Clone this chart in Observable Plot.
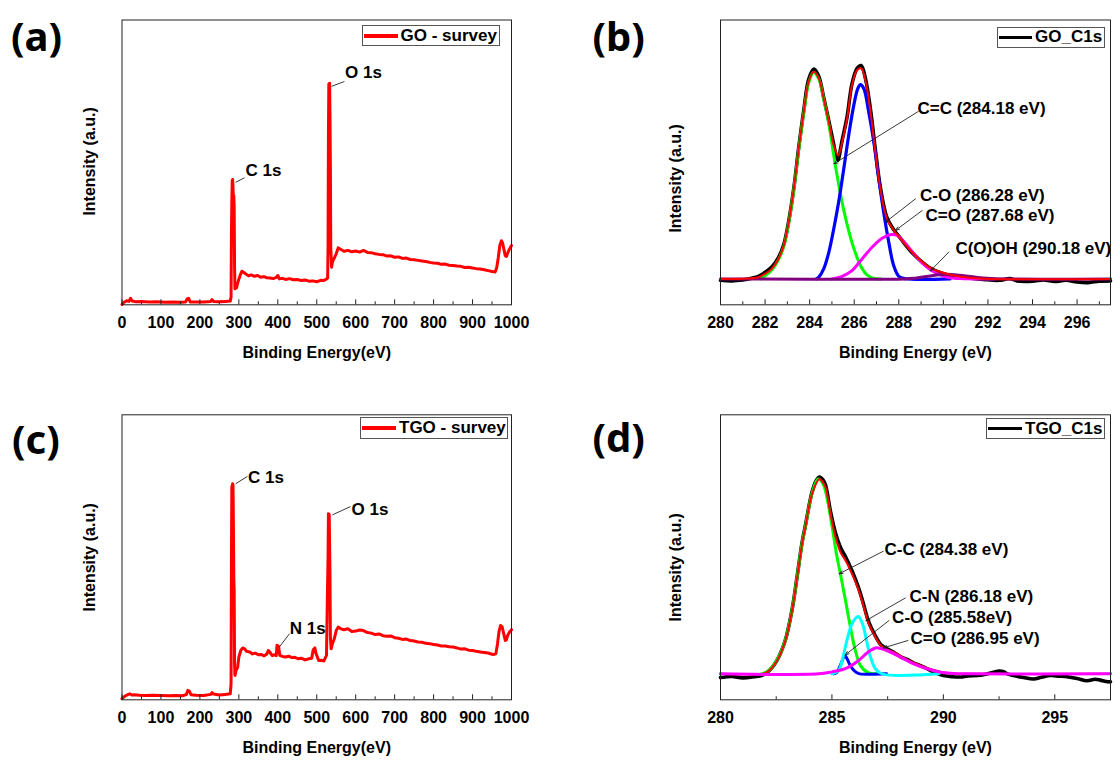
<!DOCTYPE html>
<html>
<head>
<meta charset="utf-8">
<script src="https://cdn.jsdelivr.net/npm/d3@7"></script>
<script src="https://cdn.jsdelivr.net/npm/@observablehq/plot@0.6"></script>
<style>
  body { margin: 0; background: #fff; }
  #fig { position: relative; width: 1115px; height: 760px; overflow: hidden; background: #fff; }
  #fig svg { position: absolute; }
</style>
</head>
<body>
<div id="fig"></div>
<script>
// ---------- data: [binding energy (eV), intensity (% of panel height)] ----------

// GO survey spectrum
const goSurvey = [
  [0,0.1],[5,0.9],[12,1.4],[18,1.2],[22,2.3],[26,1.3],[35,1.1],[50,1.2],[70,1.0],[90,1.1],
  [110,0.9],[130,1.0],[150,0.9],[163,1.0],[167,2.0],[171,2.3],[175,1.0],[190,1.0],[210,1.0],
  [228,1.2],[231,1.8],[235,1.2],[250,1.1],[265,1.2],[278,1.3],[280,2.7],[281,25.0],[282,36.6],
  [283,43.6],[284,44.0],[285,41.3],[286,36.6],[287,38.4],[288,34.3],[289,13.2],[290,5.6],
  [292,6.8],[294,5.9],[297,7.6],[300,9.0],[304,10.6],[308,11.8],[312,11.4],[318,10.8],[325,10.2],
  [332,10.5],[340,10.0],[348,10.3],[356,9.7],[364,9.9],[372,9.5],[380,9.4],[388,9.2],[396,9.6],
  [400,10.3],[404,9.1],[412,9.3],[420,8.9],[430,9.2],[440,8.8],[450,8.9],[460,8.5],[470,8.7],
  [480,8.3],[490,8.4],[500,8.1],[510,8.6],[518,8.5],[524,9.0],[528,9.4],[529,20.2],[530,60.0],
  [531,77.5],[533,77.8],[534,65.8],[535,48.3],[536,20.2],[538,13.2],[540,14.8],[542,15.6],
  [546,16.7],[550,17.9],[555,20.0],[560,19.6],[570,18.8],[580,19.1],[590,18.6],[600,18.9],
  [610,18.5],[620,19.1],[630,18.4],[640,18.3],[650,17.9],[660,17.7],[670,17.6],[680,17.1],
  [690,17.2],[700,16.7],[710,16.8],[720,16.3],[730,16.4],[740,15.9],[750,15.8],[760,15.6],
  [770,15.4],[780,15.2],[790,14.9],[800,14.7],[810,14.6],[820,14.2],[830,14.3],[840,13.9],
  [850,13.8],[860,13.6],[870,13.5],[880,13.1],[890,13.2],[900,12.9],[910,12.7],[920,12.6],
  [930,12.3],[940,12.0],[950,11.7],[958,11.5],[962,13.0],[966,16.5],[970,20.8],[974,22.5],
  [977,21.8],[980,19.8],[984,17.2],[987,17.0],[990,18.1],[995,19.6],[1000,20.8]
];

// TGO survey spectrum
const tgoSurvey = [
  [0,0.4],[5,1.0],[10,1.5],[15,1.8],[20,2.1],[25,1.7],[30,1.8],[45,1.6],[60,1.5],[80,1.6],
  [100,1.5],[120,1.4],[140,1.5],[155,1.4],[165,1.8],[169,3.3],[173,3.0],[177,1.8],[190,1.6],
  [210,1.5],[228,1.9],[231,2.5],[235,2.0],[250,1.7],[265,1.9],[278,2.1],[280,5.6],[281,50.0],
  [282,74.6],[284,75.8],[285,75.2],[286,61.8],[287,43.0],[288,38.4],[289,12.6],[290,8.5],
  [293,10.3],[297,11.5],[300,15.0],[305,17.3],[310,18.2],[315,17.9],[320,17.0],[328,16.8],
  [335,16.1],[342,16.4],[350,15.8],[358,15.9],[365,15.4],[372,16.1],[376,17.3],[380,16.6],
  [386,15.5],[392,15.8],[396,15.5],[398,19.1],[402,18.8],[405,15.6],[412,15.2],[420,15.0],
  [428,15.3],[436,14.8],[444,14.9],[452,14.4],[460,14.6],[470,14.0],[480,14.4],[487,14.6],
  [491,17.6],[495,18.2],[498,16.3],[505,13.8],[512,13.9],[518,13.6],[525,15.6],[527,33.7],
  [529,50.0],[530,65.3],[532,65.0],[533,54.7],[534,43.0],[535,22.0],[537,17.9],[540,19.6],
  [545,21.4],[550,24.3],[555,25.5],[562,24.9],[570,24.6],[580,24.9],[590,24.0],[600,24.1],
  [610,24.5],[620,24.3],[630,23.6],[640,23.4],[650,22.9],[660,23.1],[670,22.5],[680,22.3],
  [690,22.4],[700,21.8],[710,21.6],[720,21.2],[730,21.3],[740,20.8],[750,20.6],[760,20.3],
  [770,20.2],[780,19.8],[790,19.7],[800,19.4],[810,19.2],[820,18.9],[830,18.9],[840,18.6],
  [850,18.5],[860,18.2],[870,17.8],[880,17.9],[890,17.4],[900,17.3],[910,17.0],[920,16.8],
  [930,16.6],[940,16.4],[950,16.0],[955,15.9],[960,16.2],[964,19.6],[968,24.0],[972,26.1],
  [976,25.6],[980,23.2],[984,20.8],[987,21.0],[990,22.6],[995,23.8],[1000,24.6]
];

// GO C1s: measured spectrum
const goC1sRaw = [
  [280.0,8.6],[280.5,8.4],[281.0,8.7],[281.4,9.3],[281.7,10.0],[282.0,11.4],[282.3,13.3],
  [282.6,16.6],[282.84,21.2],[283.06,29.3],[283.29,41.0],[283.51,55.2],[283.74,68.5],
  [283.96,79.3],[284.19,82.8],[284.41,80.2],[284.63,72.8],[284.86,64.6],[285.08,56.3],
  [285.2,52.0],[285.28,50.8],[285.38,54.5],[285.46,57.8],[285.68,66.0],[285.9,77.6],
  [286.13,83.0],[286.31,84.0],[286.5,79.6],[286.73,68.6],[286.95,54.4],[287.17,41.4],
  [287.47,30.6],[287.78,26.3],[288.08,23.3],[288.52,19.0],[288.97,15.5],[289.42,12.8],
  [289.87,11.3],[290.47,10.0],[291.22,9.3],[291.8,8.9],[292.5,8.6],[293.0,9.2],[293.3,8.4],
  [294.0,8.3],[294.5,8.7],[295.0,8.2],[295.5,8.6],[296.0,8.0],[296.5,7.8],[297.0,8.3],[297.5,8.4]
];
// GO C1s: fitted envelope
const goC1sFit = [
  [280.0,9.15],[281.0,9.15],[281.7,9.7],[282.0,10.9],[282.3,12.6],[282.6,16.1],[282.84,20.8],
  [283.06,29.0],[283.29,40.8],[283.51,54.8],[283.74,67.8],[283.96,78.4],[284.19,81.8],
  [284.41,79.5],[284.63,72.4],[284.86,64.2],[285.08,56.0],[285.28,52.4],[285.46,57.2],
  [285.68,65.4],[285.9,77.1],[286.13,82.4],[286.31,83.0],[286.5,78.9],[286.73,67.8],
  [286.95,53.7],[287.17,40.8],[287.47,30.2],[287.78,26.1],[288.08,23.2],[288.52,19.1],
  [288.97,15.6],[289.42,13.0],[289.87,11.5],[290.47,10.3],[291.22,9.5],[292.12,9.1],[297.5,9.1]
];
// GO C1s: fitted components
const goCC = [
  [281.8,9.1],[282.0,10.2],[282.3,12.2],[282.6,15.8],[282.84,20.5],[283.06,28.7],[283.29,40.5],
  [283.51,54.5],[283.74,67.5],[283.96,78.0],[284.18,81.6],[284.41,79.3],[284.63,72.2],
  [284.86,63.6],[285.05,54.0],[285.2,46.8],[285.35,40.3],[285.5,34.4],[285.65,29.2],
  [285.8,24.6],[285.95,20.6],[286.15,16.2],[286.35,12.8],[286.6,10.3],[286.85,9.3],[287.2,9.1]
];
const goCO = [
  [284.3,9.1],[284.41,9.7],[284.63,12.6],[284.86,18.4],[285.08,26.6],[285.3,36.0],[285.53,47.7],
  [285.75,59.4],[285.98,70.0],[286.16,75.9],[286.28,77.3],[286.43,75.9],[286.65,67.7],
  [286.88,57.2],[287.1,44.3],[287.32,32.6],[287.55,22.0],[287.77,13.8],[288.0,10.0],
  [288.3,9.15],[290.3,9.1]
];
const goCdO = [
  [285.0,9.1],[285.46,10.0],[285.9,12.0],[286.35,16.1],[286.8,20.2],[287.25,23.4],[287.68,24.7],
  [287.93,24.4],[288.3,21.5],[288.67,18.0],[289.05,14.7],[289.42,12.3],[289.8,10.7],
  [290.17,9.7],[290.77,9.2],[292.3,9.1]
];
const goCOOH = [
  [280.0,9.1],[288.3,9.1],[288.67,9.3],[289.0,9.7],[289.42,10.15],[289.8,10.55],[290.18,10.7],
  [290.6,10.5],[291.0,10.1],[291.67,9.5],[292.12,9.2],[297.5,9.1]
];

// TGO C1s: measured spectrum
const tgoC1sRaw = [
  [280.0,7.8],[280.5,8.2],[281.0,7.7],[281.5,8.1],[281.87,8.6],[282.09,9.6],[282.3,11.2],
  [282.54,13.9],[282.91,21.0],[283.21,31.6],[283.44,43.4],[283.66,55.2],[283.81,61.2],
  [284.11,73.0],[284.3,77.0],[284.44,78.2],[284.6,77.2],[284.71,75.4],[284.93,66.3],
  [285.16,58.5],[285.38,53.5],[285.61,50.2],[285.9,45.3],[286.2,39.2],[286.43,33.2],
  [286.65,27.3],[286.95,22.4],[287.2,19.3],[287.5,17.8],[287.8,16.5],[288.1,15.0],
  [288.4,14.1],[288.7,12.8],[289.0,11.9],[289.3,10.8],[289.6,9.6],[290.0,8.5],[290.4,8.1],
  [290.76,8.0],[291.1,8.4],[291.51,8.5],[291.9,9.0],[292.26,9.7],[292.5,10.1],[292.7,9.9],
  [292.9,9.0],[293.15,8.5],[293.6,7.8],[294.05,7.3],[294.4,7.9],[294.8,8.5],[295.2,8.3],
  [295.55,8.1],[296.0,7.5],[296.44,6.7],[296.8,7.2],[297.04,6.9],[297.3,6.4],[297.5,6.3]
];
// TGO C1s: fitted envelope
const tgoC1sFit = [
  [280.0,9.1],[281.87,9.1],[282.09,9.7],[282.54,13.8],[282.91,20.8],[283.21,31.3],[283.44,43.0],
  [283.66,54.7],[283.81,60.6],[284.11,72.3],[284.44,77.5],[284.58,76.5],[284.71,74.6],
  [284.93,65.3],[285.16,57.1],[285.38,51.8],[285.61,48.9],[285.9,44.2],[286.2,38.4],
  [286.43,32.5],[286.65,26.7],[286.95,22.0],[287.2,19.0],[287.5,17.6],[287.8,16.6],
  [288.1,15.3],[288.7,12.9],[289.3,11.1],[289.9,9.8],[290.5,9.25],[291.0,9.1],[297.5,9.1]
];
// TGO C1s: fitted components
const tgoCC = [
  [281.8,9.1],[282.09,9.8],[282.54,14.0],[282.91,21.0],[283.21,31.5],[283.44,43.2],[283.66,54.9],
  [283.81,60.8],[284.11,72.5],[284.38,77.5],[284.6,75.8],[284.8,70.0],[285.01,60.6],
  [285.23,50.0],[285.38,44.2],[285.61,34.8],[285.83,25.5],[286.05,17.3],[286.28,12.0],
  [286.58,9.7],[286.8,9.2],[287.0,9.1]
];
const tgoCN = [
  [285.0,9.1],[285.3,10.3],[285.46,13.8],[285.6,18.5],[285.75,23.2],[285.9,26.7],[286.18,29.2],
  [286.38,26.5],[286.52,22.0],[286.73,15.0],[286.95,10.9],[287.25,9.1],[289.8,9.1]
];
const tgoCO = [
  [285.08,9.1],[285.23,9.7],[285.4,12.5],[285.58,15.5],[285.68,14.4],[285.8,12.4],[285.95,10.6],
  [286.1,9.6],[286.25,9.1],[287.45,9.1]
];
const tgoCdO = [
  [280.0,9.1],[284.4,9.1],[285.0,9.8],[285.6,10.9],[286.2,13.8],[286.6,16.6],[286.95,18.2],
  [287.2,18.0],[287.47,17.3],[288.07,15.0],[288.67,12.6],[289.27,10.9],[289.87,9.7],
  [290.46,9.2],[291.0,9.1],[297.5,9.1]
];

// axis ticks
const surveyTicks = [0,100,200,300,400,500,600,700,800,900,1000];
const surveyMinor = [50,150,250,350,450,550,650,750,850,950];
const goC1sTicks = [280,282,284,286,288,290,292,294,296];
const goC1sMinor = [281,283,285,287,289,291,293,295,297];
const tgoC1sTicks = [280,285,290,295];
const tgoC1sMinor = [282.5,287.5,292.5,297.5];

// texts
const goSurveyLabels = ["C 1s", "O 1s"];
const tgoSurveyLabels = ["C 1s", "O 1s", "N 1s"];
const goPeakLabels = ["C=C (284.18 eV)", "C-O (286.28 eV)", "C=O (287.68 eV)", "C(O)OH (290.18 eV)"];
const tgoPeakLabels = ["C-C (284.38 eV)", "C-N (286.18 eV)", "C-O (285.58eV)", "C=O (286.95 eV)"];

// ---------- drawing ----------
const font = '"Liberation Sans", Arial, Helvetica, sans-serif';
const fig = document.getElementById("fig");
const ink = "#222";

function panel(p) {
  const innerH = p.height - p.margin.top - p.margin.bottom;
  const marks = [];
  for (const s of p.series) {
    marks.push(Plot.line(s.data, {stroke: s.color, strokeWidth: s.width, curve: s.curve || "linear", strokeLinejoin: "round"}));
  }
  if (p.leaders) {
    marks.push(Plot.link(p.leaders, {x1: "x1", y1: "y1", x2: "x2", y2: "y2", stroke: ink, strokeWidth: 0.9}));
  }
  if (p.arrows) {
    marks.push(Plot.arrow(p.arrows, {x1: "x1", y1: "y1", x2: "x2", y2: "y2", stroke: ink, strokeWidth: 0.9, headLength: 7, headAngle: 40}));
  }
  if (p.notes) {
    marks.push(Plot.text(p.notes, {x: "tx", y: "ty", text: "label", textAnchor: "start", lineAnchor: "middle", fontSize: 17, fontWeight: "bold", fill: "#000"}));
  }
  marks.push(
    Plot.frame({stroke: ink, strokeWidth: 1}),
    Plot.tickX(p.minorTicks, {stroke: ink, insetTop: innerH - 3}),
    Plot.tickX(p.majorTicks, {stroke: ink, insetTop: innerH - 5}),
    Plot.axisX({ticks: p.majorTicks, tickSize: 0, tickPadding: 12, tickFormat: d => String(d), fontSize: 16, fontWeight: "bold"}),
    Plot.text([p.xTitle], {text: d => d, frameAnchor: "bottom", textAnchor: "middle", lineAnchor: "middle", dy: p.xTitleDy, fontSize: 16, fontWeight: "bold"}),
    Plot.text(["Intensity (a.u.)"], {text: d => d, frameAnchor: "left", textAnchor: "middle", lineAnchor: "middle", rotate: -90, dx: p.yTitleDx, dy: p.yTitleDy, fontSize: 16, fontWeight: "bold"}),
    Plot.text([p.letter], {text: d => d, frameAnchor: "top-left", textAnchor: "start", lineAnchor: "middle", dx: p.letterDx, dy: p.letterDy, fontSize: 40, fontWeight: "bold", fontFamily: '"Noto Sans", "Open Sans", sans-serif'})
  );
  const svg = Plot.plot({
    width: p.width, height: p.height,
    marginTop: p.margin.top, marginRight: p.margin.right, marginBottom: p.margin.bottom, marginLeft: p.margin.left,
    x: {domain: p.xDomain},
    y: {domain: [0, 100], axis: null},
    style: {fontFamily: font, fontSize: "16px", fontWeight: "bold", color: "#000", background: "transparent", overflow: "visible"},
    marks
  });
  svg.style.left = p.left + "px";
  svg.style.top = p.top + "px";
  fig.appendChild(svg);
}

function legend(l) {
  const box = document.createElement("div");
  box.style.cssText = `position:absolute;left:${l.left}px;top:${l.top}px;width:${l.width}px;height:${l.height}px;` +
    `border:1px solid #555;box-sizing:border-box;background:#fff;display:flex;align-items:center;` +
    `font:bold 17px ${font};color:#000;white-space:nowrap;overflow:visible;`;
  const sw = document.createElement("span");
  sw.style.cssText = `display:inline-block;flex:none;width:${l.swatch}px;height:${l.thick}px;background:${l.color};margin:0 3px 0 1px;`;
  const tx = document.createElement("span");
  tx.textContent = l.label;
  box.appendChild(sw);
  box.appendChild(tx);
  fig.appendChild(box);
}

const topMargin = {top: 19.5, bottom: 75.7};
const botMargin = {top: 34.3, bottom: 60.7};

// (a) GO survey
panel({
  left: 0, top: 0, width: 560, height: 380,
  margin: {...topMargin, left: 121.5, right: 49},
  xDomain: [0, 1000], majorTicks: surveyTicks, minorTicks: surveyMinor,
  series: [{data: goSurvey, color: "#ff0000", width: 3}],
  leaders: [{x1: 291.7, y1: 43.0, x2: 314.5, y2: 44.6}, {x1: 537.9, y1: 76.7, x2: 571, y2: 78.4}],
  notes: [{label: goSurveyLabels[0], tx: 317, ty: 47.2}, {label: goSurveyLabels[1], tx: 572.8, ty: 81.7}],
  xTitle: "Binding Energy(eV)", xTitleDy: 48,
  yTitleDx: -32.5, yTitleDy: -1,
  letter: "(a)", letterDx: -111, letterDy: 18
});

// (b) GO C1s
panel({
  left: 560, top: 0, width: 555, height: 380,
  margin: {...topMargin, left: 160, right: 5},
  xDomain: [280, 297.5], majorTicks: goC1sTicks, minorTicks: goC1sMinor,
  series: [
    {data: goC1sRaw, color: "#000", width: 3.6, curve: "catmull-rom"},
    {data: goCC, color: "#00ff00", width: 3, curve: "catmull-rom"},
    {data: goCO, color: "#0000ff", width: 3.2, curve: "catmull-rom"},
    {data: goCdO, color: "#ff00ff", width: 3, curve: "catmull-rom"},
    {data: goCOOH, color: "#800080", width: 3, curve: "catmull-rom"},
    {data: goC1sFit, color: "#ff0000", width: 2, curve: "catmull-rom"}
  ],
  arrows: [
    {x1: 288.88, y1: 67.9, x2: 285.09, y2: 49.5},
    {x1: 288.75, y1: 37.2, x2: 287.40, y2: 29.0},
    {x1: 289.05, y1: 33.1, x2: 287.85, y2: 26.1},
    {x1: 290.24, y1: 18.5, x2: 289.42, y2: 11.9}
  ],
  notes: [
    {label: goPeakLabels[0], tx: 288.84, ty: 68.9},
    {label: goPeakLabels[1], tx: 288.95, ty: 38.4},
    {label: goPeakLabels[2], tx: 289.2, ty: 31.4},
    {label: goPeakLabels[3], tx: 290.54, ty: 19.8}
  ],
  xTitle: "Binding Energy (eV)", xTitleDy: 48,
  yTitleDx: -44.3, yTitleDy: 16,
  letter: "(b)", letterDx: -128, letterDy: 18.5
});

// (c) TGO survey
panel({
  left: 0, top: 380, width: 560, height: 380,
  margin: {...botMargin, left: 121.5, right: 49},
  xDomain: [0, 1000], majorTicks: surveyTicks, minorTicks: surveyMinor,
  series: [{data: tgoSurvey, color: "#ff0000", width: 3}],
  leaders: [
    {x1: 291.7, y1: 75.8, x2: 322.2, y2: 78.4},
    {x1: 540.4, y1: 64.9, x2: 586.6, y2: 67.8},
    {x1: 405.1, y1: 18.7, x2: 430, y2: 23.2}
  ],
  notes: [
    {label: tgoSurveyLabels[0], tx: 323.5, ty: 78.1},
    {label: tgoSurveyLabels[1], tx: 589.2, ty: 66.7},
    {label: tgoSurveyLabels[2], tx: 430.5, ty: 24.9}
  ],
  xTitle: "Binding Energy(eV)", xTitleDy: 47.7,
  yTitleDx: -32.5, yTitleDy: 0,
  letter: "(c)", letterDx: -110, letterDy: 26.5
});

// (d) TGO C1s
panel({
  left: 560, top: 380, width: 555, height: 380,
  margin: {...botMargin, left: 160, right: 5},
  xDomain: [280, 297.5], majorTicks: tgoC1sTicks, minorTicks: tgoC1sMinor,
  series: [
    {data: tgoC1sRaw, color: "#000", width: 3.6, curve: "catmull-rom"},
    {data: tgoCC, color: "#00ff00", width: 3, curve: "catmull-rom"},
    {data: tgoCO, color: "#0000ff", width: 3, curve: "catmull-rom"},
    {data: tgoCN, color: "#00ffff", width: 3, curve: "catmull-rom"},
    {data: tgoC1sFit, color: "#ff0000", width: 2, curve: "catmull-rom"},
    {data: tgoCdO, color: "#ff00ff", width: 3, curve: "catmull-rom"}
  ],
  arrows: [
    {x1: 287.30, y1: 52.1, x2: 285.32, y2: 44.2},
    {x1: 288.29, y1: 35.7, x2: 286.53, y2: 27.8},
    {x1: 287.56, y1: 27.8, x2: 285.59, y2: 15.7},
    {x1: 288.41, y1: 20.8, x2: 287.30, y2: 18.2}
  ],
  notes: [
    {label: tgoPeakLabels[0], tx: 287.36, ty: 52.6},
    {label: tgoPeakLabels[1], tx: 288.48, ty: 36.2},
    {label: tgoPeakLabels[2], tx: 287.70, ty: 29.0},
    {label: tgoPeakLabels[3], tx: 288.53, ty: 21.4}
  ],
  xTitle: "Binding Energy (eV)", xTitleDy: 47.7,
  yTitleDx: -44.3, yTitleDy: 10,
  letter: "(d)", letterDx: -128, letterDy: 24
});

// legends
legend({left: 361.5, top: 25, width: 138.5, height: 21, swatch: 34, thick: 4, color: "#ff0000", label: "GO - survey"});
legend({left: 997, top: 27, width: 107.5, height: 20.5, swatch: 33, thick: 3, color: "#000", label: "GO_C1s"});
legend({left: 360, top: 417, width: 148, height: 21.5, swatch: 34, thick: 4, color: "#ff0000", label: "TGO - survey"});
legend({left: 986, top: 418, width: 118.5, height: 21, swatch: 34, thick: 3, color: "#000", label: "TGO_C1s"});
</script>
</body>
</html>
